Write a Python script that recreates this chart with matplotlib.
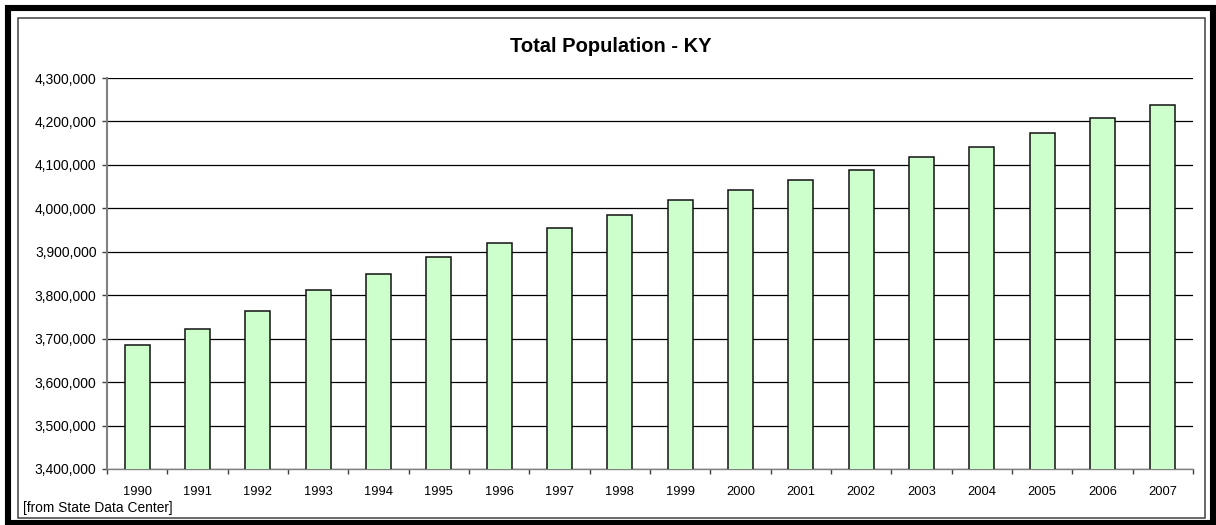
import matplotlib.pyplot as plt
from matplotlib.patches import Rectangle
from matplotlib.ticker import FuncFormatter, FixedLocator

plt.rcParams['font.family'] = ['Liberation Sans', 'DejaVu Sans']

years = [str(y) for y in range(1990, 2008)]
population = [3685300, 3722400, 3764500, 3812000, 3847700, 3887600,
              3920700, 3953600, 3985300, 4018400, 4042200, 4066000,
              4089000, 4117300, 4141000, 4173000, 4207000, 4239000]
y_ticks = list(range(3400000, 4300001, 100000))

W, H = 1216, 525
fig = plt.figure(figsize=(W / 100, H / 100), dpi=100)

# thick outer frame and thin chart-area border (pixel coords)
def px_rect(x0, y0, x1, y1, lw, color):
    fig.patches.append(Rectangle((x0 / W, 1 - y1 / H), (x1 - x0) / W, (y1 - y0) / H,
                                 transform=fig.transFigure, fill=False,
                                 linewidth=lw, edgecolor=color))

px_rect(8, 8, 1212.5, 522.5, 4.4, 'black')
px_rect(17.5, 17.5, 1204.5, 517.5, 1.1, '#404040')

left, right, top, bottom = 107, 1193, 78, 469
ax = fig.add_axes([left / W, 1 - bottom / H, (right - left) / W, (bottom - top) / H])

x = range(len(years))
ax.bar(x, population, width=0.41, color='#CCFFCC', edgecolor='#111111',
       linewidth=1.1, zorder=3)

ax.set_xlim(-0.5, len(years) - 0.5)
ax.set_ylim(3400000, 4300000)
ax.set_yticks(y_ticks)
ax.yaxis.set_major_formatter(FuncFormatter(lambda v, p: f'{int(v):,}'))
ax.grid(axis='y', color='black', linewidth=0.9, zorder=1)

# category labels centered, tick marks between categories
ax.set_xticks(list(x))
ax.set_xticklabels(years)
ax.xaxis.set_minor_locator(FixedLocator([i - 0.5 for i in range(len(years) + 1)]))
ax.tick_params(axis='x', which='major', length=0, pad=12, labelsize=9.3)
ax.tick_params(axis='x', which='minor', length=3.5, width=1, color='#404040')
ax.tick_params(axis='y', length=3.5, width=1, color='#404040', pad=4, labelsize=10)

for side in ['top', 'right']:
    ax.spines[side].set_visible(False)
ax.spines['left'].set_color('#808080')
ax.spines['left'].set_linewidth(1.5)
ax.spines['bottom'].set_color('#808080')
ax.spines['bottom'].set_linewidth(1)

fig.text(611 / W, 1 - 47 / H, 'Total Population - KY', ha='center', va='center',
         fontsize=14.5, fontweight='bold')
fig.text(23 / W, 1 - 508 / H, '[from State Data Center]', ha='left', va='center',
         fontsize=9.9)

fig.savefig('out.png', dpi=100)
